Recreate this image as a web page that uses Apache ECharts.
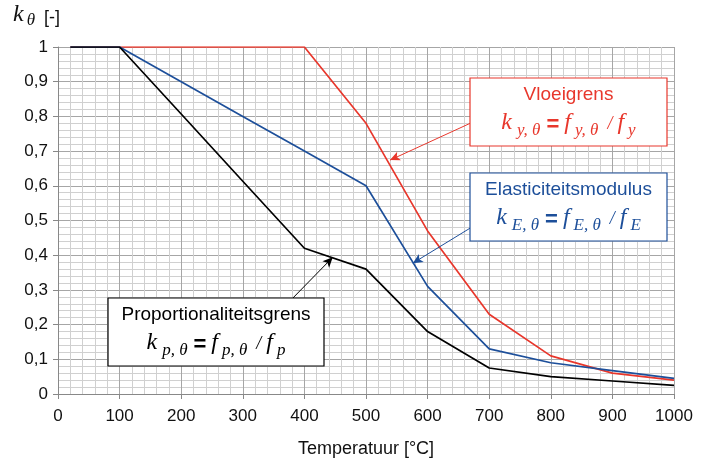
<!DOCTYPE html>
<html><head><meta charset="utf-8">
<script src="https://cdn.jsdelivr.net/npm/echarts@6/dist/echarts.min.js"></script>
<style>html,body{margin:0;padding:0;background:#fff}#c{width:709px;height:463px}</style>
</head><body><div id="c"></div>
<script>
const temps = [20,100,200,300,400,500,600,700,800,900,1000];
const kY = [1,1,1,1,1,0.78,0.47,0.23,0.11,0.06,0.04];
const kE = [1,1,0.9,0.8,0.7,0.6,0.31,0.13,0.09,0.0675,0.045];
const kP = [1,1,0.807,0.613,0.42,0.36,0.18,0.075,0.05,0.0375,0.025];
const redArrow = [[669,0.78],[539,0.674]];
const blueArrow = [[669,0.478],[576,0.377]];
const blackArrow = [[381,0.276],[446,0.394]];

const RED='#e8372c', BLUE='#1d4f9a', BLACK='#000';
const SANS='"Liberation Sans", Arial, sans-serif';
const SERIF='"Liberation Serif", "Times New Roman", serif';
const cv=document.createElement('canvas').getContext('2d');
function meas(t,font){cv.font=font;cv.textBaseline='middle';const m=cv.measureText(t);return {w:m.width,off:-m.alphabeticBaseline};}
function pair(a){return a.map((v,i)=>[temps[i],v]);}
function arrow(a,col){return {silent:true,symbol:['none','arrow'],symbolSize:[7,10],label:{show:false},
  lineStyle:{color:col,width:1,type:'solid'},emphasis:{disabled:true},
  data:[[{coord:a[0]},{coord:a[1]}]]};}
// parts: [text, font, gapBefore, dyBaseline]
function layout(parts,startX,baseline,col,center){
  const ms=parts.map(p=>meas(p[0],p[1]));
  let total=0; parts.forEach((p,i)=>{total+=p[2]+ms[i].w;});
  let x=center?startX-total/2:startX;
  return parts.map((p,i)=>{x+=p[2];const el={type:'text',z:101,x:x,y:baseline+p[3]-ms[i].off,
    style:{text:p[0],font:p[1],fill:col,textAlign:'left',verticalAlign:'middle'}};x+=ms[i].w;return el;});
}
function formulaParts(sym){
  const MAIN='italic 24px '+SERIF, SUB='italic 17px '+SERIF, EQ='bold 22px '+SANS, SL='italic 18px '+SERIF;
  return [['k',MAIN,0,0],[sym+', θ',SUB,5,6],['=',EQ,6,2],['f',MAIN,5,0],[sym+', θ',SUB,4,6],['/',SL,9,0],['f',MAIN,5,0],[sym,SUB,4,6]];
}
function box(x,y,w,h,col,title,sym){
  const t=meas(title,'19px '+SANS);
  return {type:'group',x:x,y:y,z:100,children:[
    {type:'rect',z:100,shape:{x:0,y:0,width:w,height:h},style:{fill:'#fff',stroke:col,lineWidth:1.2}},
    {type:'text',z:101,x:w/2,y:22-t.off,style:{text:title,fill:col,font:'19px '+SANS,textAlign:'center',verticalAlign:'middle'}}
  ].concat(layout(formulaParts(sym),w/2,51,col,true))};
}
const chart = echarts.init(document.getElementById('c'));
chart.setOption({
  animation:false,
  grid:{left:58,right:35,top:47,bottom:69},
  xAxis:{type:'value',min:0,max:1000,interval:100,name:'Temperatuur [°C]',nameLocation:'middle',nameGap:46,
    nameTextStyle:{fontFamily:SANS,fontSize:18,color:'#111'},
    axisLine:{lineStyle:{color:'#888'}},axisTick:{show:true,length:5,lineStyle:{color:'#888'}},
    axisLabel:{fontFamily:SANS,fontSize:17,color:'#111',margin:14,formatter:v=>String(v)},
    splitLine:{lineStyle:{color:'#a6a6a6',width:1}},
    minorTick:{show:false,splitNumber:5},minorSplitLine:{show:true,lineStyle:{color:'#d0d0d0',width:1}}},
  yAxis:{type:'value',min:0,max:1,interval:0.1,
    axisLine:{show:true,lineStyle:{color:'#888'}},axisTick:{show:true,length:5,lineStyle:{color:'#888'}},
    axisLabel:{fontFamily:SANS,fontSize:17,color:'#111',margin:10,formatter:v=>String(Math.round(v*10)/10).replace('.',',')},
    splitLine:{lineStyle:{color:'#a6a6a6',width:1}},
    minorTick:{show:false,splitNumber:5},minorSplitLine:{show:true,lineStyle:{color:'#d0d0d0',width:1}}},
  series:[
    {type:'line',data:pair(kY),symbol:'none',lineStyle:{color:RED,width:1.7},markLine:arrow(redArrow,RED)},
    {type:'line',data:pair(kE),symbol:'none',lineStyle:{color:BLUE,width:1.7},markLine:arrow(blueArrow,BLUE)},
    {type:'line',data:pair(kP),symbol:'none',lineStyle:{color:BLACK,width:1.7},markLine:arrow(blackArrow,BLACK)}
  ],
  graphic:[
    {type:'group',x:0,y:0,z:100,children:layout([
      ['k','italic 24px '+SERIF,0,0],['θ','italic 17px '+SERIF,3,4],['[-]','18px '+SANS,9,2]],13,21,'#111',false)},
    box(470,78,197,68,RED,'Vloeigrens','y'),
    box(470,173,197,68,BLUE,'Elasticiteitsmodulus','E'),
    box(108,298,216,68,BLACK,'Proportionaliteitsgrens','p')
  ]
});
</script></body></html>
